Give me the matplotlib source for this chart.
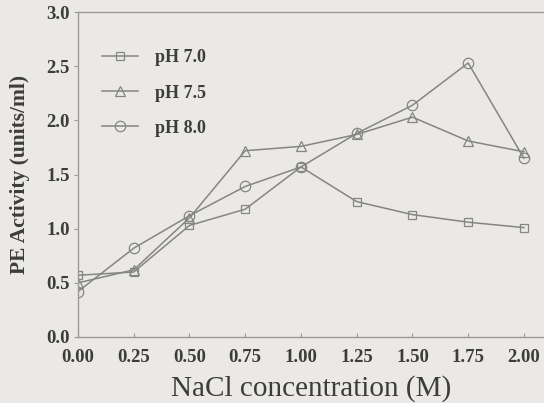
import matplotlib
matplotlib.use('Agg')
import matplotlib.pyplot as plt

# NaCl concentration (M)
nacl = [0.00, 0.25, 0.50, 0.75, 1.00, 1.25, 1.50, 1.75, 2.00]

# PE activity (units/ml) at each pH
ph70 = [0.57, 0.60, 1.03, 1.18, 1.57, 1.25, 1.13, 1.06, 1.01]
ph75 = [0.50, 0.62, 1.10, 1.72, 1.76, 1.87, 2.03, 1.81, 1.71]
ph80 = [0.42, 0.82, 1.12, 1.39, 1.57, 1.88, 2.14, 2.53, 1.65]

labels = ['pH 7.0', 'pH 7.5', 'pH 8.0']
markers = ['s', '^', 'o']
xticks = [0.00, 0.25, 0.50, 0.75, 1.00, 1.25, 1.50, 1.75, 2.00]
yticks = [0.0, 0.5, 1.0, 1.5, 2.0, 2.5, 3.0]

bg = '#ebe9e6'
linecol = '#858585'
textcol = '#3c3c3c'

plt.rcParams['font.family'] = ['Liberation Serif', 'DejaVu Serif']

fig = plt.figure(figsize=(5.44, 4.03), dpi=100, facecolor=bg)
ax = fig.add_axes([0.1434, 0.1638, 0.8566, 0.8062])
ax.set_facecolor(bg)

for y, lab, m, ms in zip([ph70, ph75, ph80], labels, markers, [6, 6.5, 7.5]):
    ax.plot(nacl, y, color=linecol, lw=1.1, marker=m, ms=ms,
            mfc='none', mec=linecol, mew=0.9, label=lab)

ax.set_xlim(0, 2.09)
ax.set_ylim(0, 3.0)
ax.set_xticks(xticks)
ax.set_xticklabels(['%.2f' % v for v in xticks])
ax.set_yticks(yticks)
ax.set_yticklabels(['%.1f' % v for v in yticks])

for s in ['left', 'bottom', 'top']:
    ax.spines[s].set_color('#9a9a9a')
    ax.spines[s].set_linewidth(1.0)
ax.spines['right'].set_visible(False)

ax.tick_params(axis='x', direction='in', length=3, color='#9a9a9a',
               labelsize=13.5, labelcolor=textcol, pad=9)
ax.tick_params(axis='y', direction='out', length=3, color='#9a9a9a',
               labelsize=13.5, labelcolor=textcol, pad=3)
for t in ax.get_xticklabels() + ax.get_yticklabels():
    t.set_fontweight('bold')

ax.set_xlabel('NaCl concentration (M)', fontsize=21, color=textcol, labelpad=6)
ax.set_ylabel('PE Activity (units/ml)', fontsize=15.5, fontweight='bold',
              color=textcol, labelpad=12)

leg = ax.legend(loc='upper left', bbox_to_anchor=(0.017, 0.935), frameon=False,
                handlelength=2.0, handletextpad=0.95, labelspacing=1.0,
                prop={'size': 13, 'weight': 'bold'})
for t in leg.get_texts():
    t.set_color(textcol)

fig.savefig('out.png', dpi=100, facecolor=bg)
